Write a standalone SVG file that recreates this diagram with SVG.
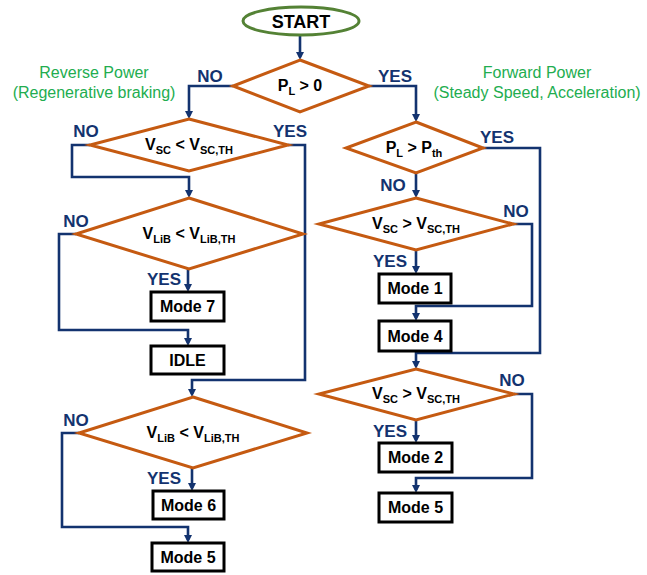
<svg xmlns="http://www.w3.org/2000/svg" width="647" height="575" viewBox="0 0 647 575">
  <style>
    .dia { fill: #ffffff; stroke: #c55a11; stroke-width: 3; stroke-linejoin: miter; }
    .box { fill: #ffffff; stroke: #000000; stroke-width: 3; }
    .wire { fill: none; stroke: #13336f; stroke-width: 2.6; stroke-linejoin: miter; marker-end: url(#arrow); }
    .t { font-family: "Liberation Sans", Arial, sans-serif; font-weight: bold; fill: #000000; }
    .cond { font-size: 16px; text-anchor: middle; }
    .mode { font-size: 16px; text-anchor: middle; }
    .lbl { font-family: "Liberation Sans", Arial, sans-serif; font-weight: bold; font-size: 17px; fill: #13336f; text-anchor: middle; }
    .note { font-family: "Liberation Sans", Arial, sans-serif; font-size: 16px; fill: #22ad4f; text-anchor: middle; }
    .sub { font-size: 11px; }
  </style>
  <defs>
    <marker id="arrow" markerUnits="userSpaceOnUse" viewBox="0 0 8 8" markerWidth="8" markerHeight="8" refX="5" refY="4" orient="auto">
      <path d="M0,0 L8,4 L0,8 z" fill="#13336f"/>
    </marker>
  </defs>

  <rect width="647" height="575" fill="#ffffff"/>

  <!-- section captions -->
  <text class="note" x="94" y="78">Reverse Power</text>
  <text class="note" x="94" y="98">(Regenerative braking)</text>
  <text class="note" x="537" y="78">Forward Power</text>
  <text class="note" x="537" y="98">(Steady Speed, Acceleration)</text>

  <!-- connectors -->
  <g id="connectors">
    <path class="wire" d="M300,35 V57"/>
    <path class="wire" d="M233,86 H189 V116"/>
    <path class="wire" d="M369,86 H416 V119"/>
    <path class="wire" d="M90,145 H72 V177 H189 V195"/>
    <path class="wire" d="M288,145 H305 V380 H192 V394"/>
    <path class="wire" d="M188,269 V289"/>
    <path class="wire" d="M76,234 H59 V330 H188 V343"/>
    <path class="wire" d="M192,468 V488"/>
    <path class="wire" d="M79,433 H62 V527 H188 V540"/>
    <path class="wire" d="M416,173 V195"/>
    <path class="wire" d="M483,148 H540 V353 H416 V366"/>
    <path class="wire" d="M416,250 V271"/>
    <path class="wire" d="M513,224 H532 V306 H416 V318"/>
    <path class="wire" d="M416,420 V440"/>
    <path class="wire" d="M514,394 H532 V478 H416 V490"/>
  </g>

  <!-- branch labels -->
  <g id="labels">
    <text class="lbl" x="210" y="82">NO</text>
    <text class="lbl" x="395" y="82">YES</text>
    <text class="lbl" x="86" y="137">NO</text>
    <text class="lbl" x="290" y="137">YES</text>
    <text class="lbl" x="76" y="227">NO</text>
    <text class="lbl" x="164" y="285">YES</text>
    <text class="lbl" x="76" y="426">NO</text>
    <text class="lbl" x="164" y="484">YES</text>
    <text class="lbl" x="497" y="143">YES</text>
    <text class="lbl" x="393" y="191">NO</text>
    <text class="lbl" x="516" y="217">NO</text>
    <text class="lbl" x="390" y="267">YES</text>
    <text class="lbl" x="512" y="386">NO</text>
    <text class="lbl" x="390" y="437">YES</text>
  </g>

  <g id="start">
    <ellipse cx="301" cy="21" rx="58" ry="14" fill="#ffffff" stroke="#548235" stroke-width="3"/>
    <text class="t" x="301" y="28" font-size="18" text-anchor="middle">START</text>
  </g>

  <g id="d-power">
    <polygon class="dia" points="300,60 369,86 300,112 233,86"/>
    <text class="t cond" x="300" y="91">P<tspan class="sub" dy="4">L</tspan><tspan dy="-4"> &gt; 0</tspan></text>
  </g>

  <g id="d-vsc-rev">
    <polygon class="dia" points="189,119 288,145 189,171 90,145"/>
    <text class="t cond" x="189" y="150">V<tspan class="sub" dy="4">SC</tspan><tspan dy="-4"> &lt; V</tspan><tspan class="sub" dy="4">SC,TH</tspan></text>
  </g>

  <g id="d-vlib-1">
    <polygon class="dia" points="189,198 303,234 189,269 76,234"/>
    <text class="t cond" x="189" y="239">V<tspan class="sub" dy="4">LiB</tspan><tspan dy="-4"> &lt; V</tspan><tspan class="sub" dy="4">LiB,TH</tspan></text>
  </g>

  <g id="mode7">
    <rect class="box" x="151" y="292" width="73" height="29"/>
    <text class="t mode" x="187.5" y="312">Mode 7</text>
  </g>

  <g id="idle">
    <rect class="box" x="151" y="346" width="73" height="28"/>
    <text class="t mode" x="187.5" y="366">IDLE</text>
  </g>

  <g id="d-vlib-2">
    <polygon class="dia" points="193,397 307,433 193,468 79,433"/>
    <text class="t cond" x="193" y="438">V<tspan class="sub" dy="4">LiB</tspan><tspan dy="-4"> &lt; V</tspan><tspan class="sub" dy="4">LiB,TH</tspan></text>
  </g>

  <g id="mode6">
    <rect class="box" x="153" y="491" width="71" height="28"/>
    <text class="t mode" x="188.5" y="511">Mode 6</text>
  </g>

  <g id="mode5-rev">
    <rect class="box" x="152" y="543" width="72" height="28"/>
    <text class="t mode" x="188" y="563">Mode 5</text>
  </g>

  <g id="d-pth">
    <polygon class="dia" points="416,122 483,148 416,173 346,148"/>
    <text class="t cond" x="414" y="153">P<tspan class="sub" dy="4">L</tspan><tspan dy="-4"> &gt; P</tspan><tspan class="sub" dy="4">th</tspan></text>
  </g>

  <g id="d-vsc-fwd-1">
    <polygon class="dia" points="416,198 513,224 416,250 319,224"/>
    <text class="t cond" x="416" y="229">V<tspan class="sub" dy="4">SC</tspan><tspan dy="-4"> &gt; V</tspan><tspan class="sub" dy="4">SC,TH</tspan></text>
  </g>

  <g id="mode1">
    <rect class="box" x="379" y="274" width="72" height="29"/>
    <text class="t mode" x="415" y="294">Mode 1</text>
  </g>

  <g id="mode4">
    <rect class="box" x="379" y="321" width="72" height="30"/>
    <text class="t mode" x="415" y="342">Mode 4</text>
  </g>

  <g id="d-vsc-fwd-2">
    <polygon class="dia" points="416,369 514,394 416,420 319,394"/>
    <text class="t cond" x="416" y="399">V<tspan class="sub" dy="4">SC</tspan><tspan dy="-4"> &gt; V</tspan><tspan class="sub" dy="4">SC,TH</tspan></text>
  </g>

  <g id="mode2">
    <rect class="box" x="379" y="443" width="73" height="29"/>
    <text class="t mode" x="415.5" y="463">Mode 2</text>
  </g>

  <g id="mode5-fwd">
    <rect class="box" x="379" y="493" width="73" height="29"/>
    <text class="t mode" x="415.5" y="513">Mode 5</text>
  </g>
</svg>
